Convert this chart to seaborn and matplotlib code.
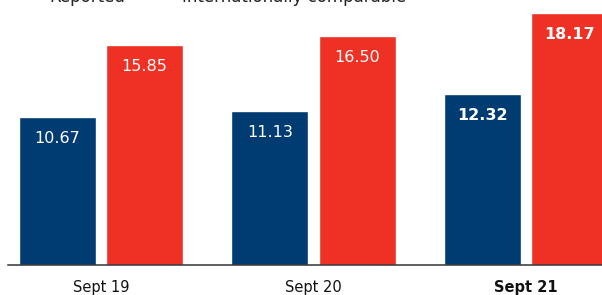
import matplotlib
matplotlib.use("Agg")
import matplotlib.pyplot as plt
import seaborn as sns
import pandas as pd

categories = ["Sept 19", "Sept 20", "Sept 21"]
series_names = ["Reported", "Internationally comparable"]
reported = [10.67, 11.13, 12.32]
intl_comparable = [15.85, 16.50, 18.17]
bold_category = "Sept 21"

colors = {"Reported": "#003B71", "Internationally comparable": "#EE3124"}

df = pd.DataFrame({
    "period": categories * 2,
    "series": [series_names[0]] * 3 + [series_names[1]] * 3,
    "value": reported + intl_comparable,
})

sns.set_theme(style="white")
plt.rcParams["font.family"] = ["DejaVu Sans"]

W, H = 602, 295
fig = plt.figure(figsize=(W / 100, H / 100), dpi=100)
ax = fig.add_axes([8 / W, 30 / H, 594 / W, 265 / H])

sns.barplot(data=df, x="period", y="value", hue="series", order=categories,
            hue_order=series_names, palette=colors, width=0.82, gap=0.115,
            saturation=1, legend=False, ax=ax)

ax.set_xlim(-0.438, 2.358)
ax.set_ylim(0, 19.1)
ax.set_xlabel("")
ax.set_ylabel("")
ax.set_yticks([])
for s in ["top", "left", "right"]:
    ax.spines[s].set_visible(False)
ax.spines["bottom"].set_color("#333333")
ax.spines["bottom"].set_linewidth(1.1)
ax.tick_params(axis="x", length=0, pad=11, labelsize=10.5, labelcolor="#111111")
for lab in ax.get_xticklabels():
    if lab.get_text() == bold_category:
        lab.set_fontweight("bold")

for container in ax.containers:
    for i, patch in enumerate(container.patches):
        h = patch.get_height()
        bold = categories[i] == bold_category
        ax.annotate(f"{h:.2f}", (patch.get_x() + patch.get_width() / 2, h),
                    xytext=(0, -15.5), textcoords="offset points",
                    ha="center", va="center", color="white", fontsize=11.5,
                    fontweight="bold" if bold else "normal")

# legend (cut off at top of image, as in the reference)
fig.text(49 / W, 1 - 2.0 / H, series_names[0], ha="left", va="baseline",
         fontsize=12, color="#222222")
fig.text(182 / W, 1 - 2.0 / H, series_names[1], ha="left", va="baseline",
         fontsize=12, color="#222222")

fig.savefig("out.png", dpi=100)
